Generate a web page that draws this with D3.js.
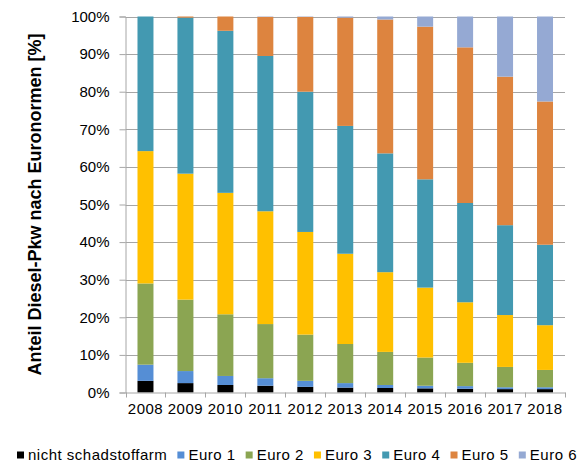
<!DOCTYPE html>
<html>
<head>
<meta charset="utf-8">
<script src="https://cdn.jsdelivr.net/npm/d3@7"></script>
<style>
  html, body { margin: 0; padding: 0; background: #fff; }
  svg { display: block; font-family: "Liberation Sans", Arial, sans-serif; }
</style>
</head>
<body>
<div id="chart"></div>
<script>
// data (share in %)
const years = ['2008', '2009', '2010', '2011', '2012', '2013', '2014', '2015', '2016', '2017', '2018'];
const nichtSchadstoffarm = [3.1, 2.5, 2.0, 1.8, 1.5, 1.3, 1.2, 1.1, 1.0, 0.9, 0.9];
const euro1 = [4.3, 3.2, 2.4, 2.0, 1.6, 1.2, 0.8, 0.7, 0.7, 0.5, 0.5];
const euro2 = [21.6, 19.0, 16.4, 14.4, 12.3, 10.4, 8.8, 7.5, 6.2, 5.4, 4.6];
const euro3 = [35.2, 33.5, 32.3, 30.0, 27.3, 24.0, 21.2, 18.6, 16.1, 13.8, 11.9];
const euro4 = [35.8, 41.5, 43.1, 41.3, 37.3, 34.0, 31.6, 28.8, 26.4, 23.9, 21.4];
const euro5 = [0, 0.3, 3.8, 10.4, 19.9, 28.8, 35.6, 40.6, 41.4, 39.5, 38.1];
const euro6 = [0, 0, 0, 0.1, 0.1, 0.3, 0.8, 2.7, 8.2, 16.0, 22.6];
const seriesNames = ['nicht schadstoffarm', 'Euro 1', 'Euro 2', 'Euro 3', 'Euro 4', 'Euro 5', 'Euro 6'];
const yTicks = [0, 0.1, 0.2, 0.3, 0.4, 0.5, 0.6, 0.7, 0.8, 0.9, 1];

const seriesValues = [nichtSchadstoffarm, euro1, euro2, euro3, euro4, euro5, euro6];
const colors = ['#000000', '#558ED5', '#8BA552', '#FFC000', '#4399B1', '#DD843F', '#95A9D3'];

const width = 583;
const height = 464;
const plotLeft = 125.5;
const plotRight = 565;
const plotTop = 16.5;
const plotBottom = 392.5;
const gridColor = '#A6A6A6';

const svg = d3.select('#chart')
  .append('svg')
  .attr('width', width)
  .attr('height', height);

const x = d3.scaleBand()
  .domain(years)
  .range([plotLeft, plotRight])
  .paddingInner(0.6)
  .paddingOuter(0.3);

const y = d3.scaleLinear()
  .domain([0, 1])
  .range([plotBottom, plotTop]);

// rows for the stack
const rows = years.map((year, i) => {
  const row = { year };
  seriesNames.forEach((name, s) => { row[name] = seriesValues[s][i] / 100; });
  return row;
});
const stacked = d3.stack().keys(seriesNames)(rows);

function renderGrid() {
  svg.append('g')
    .selectAll('line')
    .data(yTicks.slice(1))
    .enter()
    .append('line')
    .attr('x1', plotLeft)
    .attr('x2', plotRight)
    .attr('y1', d => Math.round(y(d)) + 0.5)
    .attr('y2', d => Math.round(y(d)) + 0.5)
    .attr('stroke', gridColor)
    .attr('stroke-width', 1);
}

function renderBars() {
  svg.append('g')
    .selectAll('g')
    .data(stacked)
    .enter()
    .append('g')
    .attr('fill', (d, i) => colors[i])
    .selectAll('rect')
    .data(d => d)
    .enter()
    .append('rect')
    .attr('x', d => x(d.data.year))
    .attr('width', x.bandwidth())
    .attr('y', d => y(d[1]))
    .attr('height', d => y(d[0]) - y(d[1]));
}

function renderAxes() {
  const yAxis = svg.append('g')
    .attr('transform', `translate(${plotLeft},0)`)
    .call(d3.axisLeft(y)
      .tickValues(yTicks)
      .tickFormat(d3.format('.0%'))
      .tickSize(6)
      .tickPadding(10));
  yAxis.select('.domain').attr('stroke', gridColor);
  yAxis.selectAll('.tick line').attr('stroke', gridColor);
  yAxis.selectAll('.tick text')
    .attr('fill', '#000')
    .style('font-size', '15px')
    .style('font-family', '"Liberation Sans", Arial, sans-serif');

  const xAxis = svg.append('g')
    .attr('transform', `translate(0,${plotBottom})`)
    .call(d3.axisBottom(x).tickSize(0).tickPadding(11));
  xAxis.select('.domain').attr('stroke', gridColor);
  xAxis.selectAll('.tick text')
    .attr('fill', '#000')
    .style('font-size', '15px')
    .style('letter-spacing', '0.5px')
    .style('font-family', '"Liberation Sans", Arial, sans-serif');

  // tick marks between categories
  const step = x.step();
  svg.append('g')
    .selectAll('line')
    .data(d3.range(years.length + 1))
    .enter()
    .append('line')
    .attr('x1', i => Math.round(plotLeft + i * step) + 0.5)
    .attr('x2', i => Math.round(plotLeft + i * step) + 0.5)
    .attr('y1', plotBottom)
    .attr('y2', plotBottom + 5)
    .attr('stroke', gridColor);

  svg.append('text')
    .attr('transform', `translate(35,${(plotTop + plotBottom) / 2}) rotate(-90)`)
    .attr('text-anchor', 'middle')
    .attr('dy', '0.35em')
    .style('font-size', '18px')
    .style('font-weight', 'bold')
    .text('Anteil Diesel-Pkw nach Euronormen [%]');
}

function renderLegend() {
  const legendLeft = 17;
  const legendRight = 577;
  const legendY = 455;
  const box = 7;
  const boxGap = 4;

  const legend = svg.append('g');
  const items = legend.selectAll('g')
    .data(seriesNames)
    .enter()
    .append('g');
  items.append('rect')
    .attr('width', box)
    .attr('height', box)
    .attr('y', legendY - box / 2)
    .attr('fill', (d, i) => colors[i]);
  items.append('text')
    .attr('x', box + boxGap)
    .attr('y', legendY)
    .attr('dy', '0.35em')
    .style('font-size', '15px')
    .style('letter-spacing', '0.5px')
    .text(d => d);

  const widths = [];
  items.each(function() {
    widths.push(box + boxGap + this.querySelector('text').getComputedTextLength());
  });
  const gap = (legendRight - legendLeft - d3.sum(widths)) / (widths.length - 1);
  let pos = legendLeft;
  items.attr('transform', (d, i) => {
    const t = `translate(${pos},0)`;
    pos += widths[i] + gap;
    return t;
  });
}

renderGrid();
renderBars();
renderAxes();
renderLegend();
</script>
</body>
</html>
